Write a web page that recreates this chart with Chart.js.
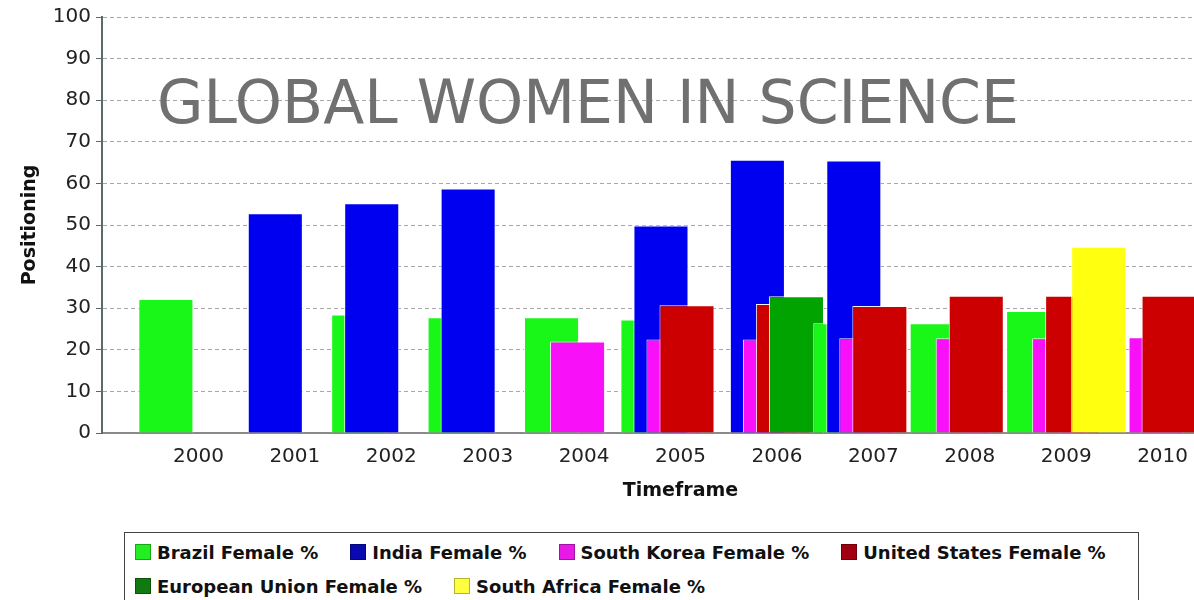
<!DOCTYPE html>
<html>
<head>
<meta charset="utf-8">
<title>Global Women in Science</title>
<script src="https://cdn.jsdelivr.net/npm/chart.js@4.4.1/dist/chart.umd.min.js"></script>
<style>
  html, body { margin: 0; padding: 0; width: 1194px; height: 600px; overflow: hidden; background: #fff; }
  #wrap { position: relative; width: 1259px; height: 600px; }
  #chart { position: absolute; left: 0; top: 0; }
  #headline {
    position: absolute; left: 157px; top: 72px;
    font: 60px/1 "DejaVu Sans", sans-serif; color: #707070; white-space: nowrap;
  }
  #legend {
    position: absolute; left: 124px; top: 532px; width: 1015px; height: 90px;
    box-sizing: border-box; border: 1px solid #444; background: #fff;
    padding: 2px 0 0 10px; display: flex; flex-wrap: wrap; align-content: flex-start; column-gap: 32px;
    font: bold 18px "DejaVu Sans", sans-serif; color: #111;
  }
  #legend .item { display: flex; align-items: center; height: 34px; white-space: nowrap; }
  #legend .swatch { width: 16px; height: 16px; margin-right: 6px; box-sizing: border-box; border: 1px solid rgba(0, 0, 0, 0.3); }
</style>
</head>
<body>
<div id="wrap">
  <canvas id="chart" width="1259" height="600"></canvas>
  <div id="headline">GLOBAL WOMEN IN SCIENCE</div>
  <div id="legend"></div>
</div>
<script>
const years = [2000, 2001, 2002, 2003, 2004, 2005, 2006, 2007, 2008, 2009, 2010];

const brazilPct        = [32.2, null, 28.5, 27.8, 27.8, 27.3, null, 26.4, 26.4, 29.3, null];
const indiaPct         = [null, 52.8, 55.2, 58.8, null, 49.9, 65.7, 65.5, null, null, null];
const southKoreaPct    = [null, null, null, null, 22.0, 22.5, 22.5, 22.8, 22.8, 22.8, 23.0];
const unitedStatesPct  = [null, null, null, null, null, 30.7, 31.0, 30.5, 33.0, 33.0, 33.0];
const europeanUnionPct = [null, null, null, null, null, null, 32.9, null, null, null, null];
const southAfricaPct   = [null, null, null, null, null, null, null, null, null, 44.8, null];

const seriesLabels = [
  "Brazil Female %",
  "India Female %",
  "South Korea Female %",
  "United States Female %",
  "European Union Female %",
  "South Africa Female %",
];
const seriesValues = [brazilPct, indiaPct, southKoreaPct, unitedStatesPct, europeanUnionPct, southAfricaPct];
const seriesColors = ["#19f719", "#0000f0", "#f810f8", "#cc0000", "#00a300", "#ffff10"];
const swatchColors = ["#22ee22", "#0a0ab0", "#e619e6", "#a00010", "#107a10", "#ffff40"];

Chart.defaults.font.family = "'DejaVu Sans', sans-serif";

const barStyle = k => ({
  backgroundColor: seriesColors[k],
  borderColor: "rgba(255, 255, 255, 0.95)",
  borderWidth: { left: 1, top: 1, right: 1, bottom: 0 },
});

// empty lead datasets fix the slot order of the series inside each year group
const datasets = seriesLabels.map((label, k) => ({
  label,
  stack: label,
  order: -1,
  data: years.map(() => null),
  ...barStyle(k),
}));

// one dataset per year and series so each year's group is painted over the previous one
years.forEach((year, i) => {
  seriesValues.forEach((values, k) => {
    if (values[i] === null) return;
    datasets.push({
      label: seriesLabels[k],
      stack: seriesLabels[k],
      order: 1000 - (i * seriesLabels.length + k),
      data: years.map((_, j) => (j === i ? values[i] : null)),
      ...barStyle(k),
    });
  });
});

const chart = new Chart(document.getElementById("chart"), {
  type: "bar",
  data: { labels: years, datasets },
  options: {
    responsive: false,
    animation: false,
    layout: { padding: { top: 16 } },
    datasets: {
      bar: { grouped: true, categoryPercentage: 0.81, barPercentage: 4.23 },
    },
    plugins: {
      legend: { display: false },
      tooltip: { enabled: false },
    },
    scales: {
      x: {
        type: "linear",
        offset: false,
        min: years[0] - 1,
        max: years[years.length - 1] + 1,
        afterBuildTicks: axis => { axis.ticks = years.map(value => ({ value })); },
        afterFit: axis => { axis.height = 167; },
        ticks: {
          autoSkip: false,
          maxRotation: 0,
          padding: 4,
          color: "#222",
          font: { size: 20 },
          callback: value => String(value),
        },
        grid: { display: false },
        border: { display: true, color: "#8a8a8a", width: 2 },
        title: {
          display: true,
          text: "Timeframe",
          color: "#111",
          font: { size: 19, weight: "bold" },
          padding: { top: 0, bottom: 98 },
        },
      },
      y: {
        min: 0,
        max: 100,
        stacked: false,
        afterFit: axis => { axis.width = 102; },
        ticks: { stepSize: 10, padding: 5, color: "#222", font: { size: 20 } },
        grid: { color: "#a8a8a8", lineWidth: 1, tickColor: "#5b6b6b", tickLength: 6, tickBorderDash: [] },
        border: { display: true, color: "#5b6b6b", width: 2, dash: [4, 3] },
        title: {
          display: true,
          text: "Positioning",
          color: "#111",
          font: { size: 19, weight: "bold" },
          padding: { top: 19, bottom: 0 },
        },
      },
    },
  },
});

// legend drawn as a framed html block under the axis
const legendEl = document.getElementById("legend");
seriesLabels.forEach((label, k) => {
  const item = document.createElement("span");
  item.className = "item";
  const swatch = document.createElement("span");
  swatch.className = "swatch";
  swatch.style.background = swatchColors[k];
  item.append(swatch, document.createTextNode(label));
  legendEl.append(item);
});
</script>
</body>
</html>
